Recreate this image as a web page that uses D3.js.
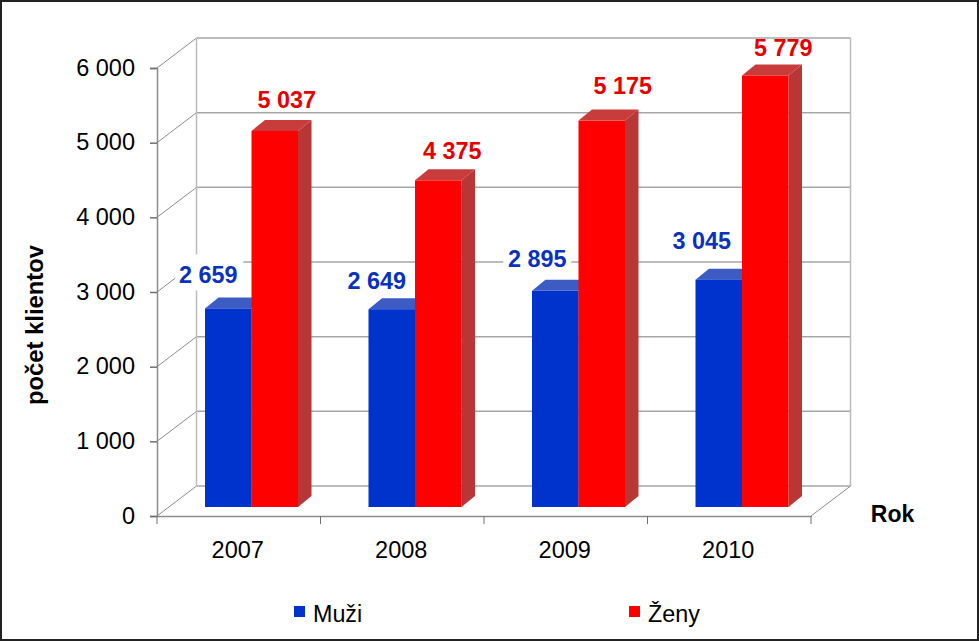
<!DOCTYPE html>
<html>
<head>
<meta charset="utf-8">
<script src="https://cdn.jsdelivr.net/npm/d3@7/dist/d3.min.js"></script>
<style>
html,body{margin:0;padding:0;background:#fff}
svg{display:block;font-family:"Liberation Sans",Arial,sans-serif}
</style>
</head>
<body>
<svg id="c" width="979" height="641"></svg>
<script>
const years = ["2007","2008","2009","2010"];
const muzi = [2659,2649,2895,3045];
const zeny = [5037,4375,5175,5779];
const yTicks = [0,1000,2000,3000,4000,5000,6000];
const seriesNames = ["Muži","Ženy"];
const yTitle = "počet klientov";
const xTitle = "Rok";

// label nudges relative to bar tops (layout only)
const muziLabelNudge = [[-20,-34],[-15,-29],[-18,-32],[-17,-39]];
const zenyLabelNudge = [[12,-31],[14,-30],[21,-35],[18,-28]];
// white label plates only where a label sits over grid lines
const muziLabelPlate = [[-33,-20,68,36],null,[-34,-16,68,32],null];

const BLUE="#0033cc", BLUE_TOP="#3c5cc4", RED="#ff0000", RED_TOP="#c83c3c", RED_SIDE="#b83636";
const GRID="#a6a6a6", WALL="#bcbcbc", AXIS="#8c8c8c";

const fmt = d3.formatLocale({decimal:",",thousands:" ",grouping:[3],currency:["",""]}).format(",d");
const svg = d3.select("#c");
svg.append("rect").attr("x",1).attr("y",1).attr("width",977).attr("height",639)
  .attr("fill","#fff").attr("stroke","#222").attr("stroke-width",2);

const x0=157,x1=811,y0=516,yTop=68;
const wallDx=39.5, wallDy=-30;
const y=d3.scaleLinear().domain([0,6000]).range([y0,yTop]);
const x=d3.scaleBand().domain(years).range([x0,x1]);

// back wall and side wall
const wall=svg.append("g").attr("fill","none");
wall.selectAll("line.grid").data(yTicks).join("line").attr("class","grid")
  .attr("x1",x0+wallDx).attr("x2",x1+wallDx)
  .attr("y1",d=>y(d)+wallDy).attr("y2",d=>y(d)+wallDy)
  .attr("stroke",GRID).attr("stroke-width",1.5);
wall.selectAll("line.side").data(yTicks).join("line").attr("class","side")
  .attr("x1",x0).attr("x2",x0+wallDx)
  .attr("y1",d=>y(d)).attr("y2",d=>y(d)+wallDy)
  .attr("stroke",AXIS).attr("stroke-width",1);
[x0+wallDx,x1+wallDx].forEach(px=>{
  wall.append("line").attr("x1",px).attr("x2",px)
    .attr("y1",y(6000)+wallDy).attr("y2",y(0)+wallDy)
    .attr("stroke",WALL).attr("stroke-width",1.5);
});
wall.append("line").attr("x1",x1).attr("y1",y0).attr("x2",x1+wallDx).attr("y2",y0+wallDy)
  .attr("stroke",AXIS);

// axes
const yAxis=svg.append("g").attr("transform",`translate(${x0},0)`)
  .call(d3.axisLeft(y).tickValues(yTicks).tickFormat(fmt).tickSize(7).tickPadding(15));
yAxis.selectAll("path").attr("stroke",AXIS).attr("stroke-width",1.5);
yAxis.selectAll("line").attr("stroke","#707070").attr("stroke-width",1.5);
yAxis.selectAll("text").attr("font-size",23.5).attr("fill","#000")
  .attr("font-family","Liberation Sans").attr("dy","0.3em");

const xAxis=svg.append("g").attr("transform",`translate(0,${y0})`)
  .call(d3.axisBottom(x).tickFormat(d=>d).tickSize(0).tickPadding(25));
xAxis.selectAll("path").attr("stroke",AXIS).attr("stroke-width",1.5);
xAxis.selectAll("text").attr("font-size",23.5).attr("fill","#000").attr("font-family","Liberation Sans")
  .attr("dx",-1);
const edges=[x0].concat(years.map(d=>x(d)+x.bandwidth()));
svg.selectAll("line.xt").data(edges).join("line").attr("class","xt")
  .attr("x1",d=>d).attr("x2",d=>d).attr("y1",y0).attr("y2",y0+8)
  .attr("stroke","#707070").attr("stroke-width",1);

// bars
const baseShift=-9, barLeft=48, barW=46.5, depthX=13.5, depthY=-11;
const h=v=>y0-y(v);
function barPos(i,s){return x(years[i])+barLeft+s*barW;}
function topY(v){return y0+baseShift-h(v);}
const pts=a=>a.map(p=>p.join(",")).join(" ");
const bars=svg.append("g");
function drawBar(vals,s,front,topC,sideC){
  const g=bars.selectAll(null).data(vals).join("g");
  g.append("polygon").attr("fill",sideC).attr("points",(v,i)=>{
    const l=barPos(i,s)+barW,t=topY(v),b=y0+baseShift;
    return pts([[l,t],[l+depthX,t+depthY],[l+depthX,b+depthY],[l,b]]);
  });
  g.append("polygon").attr("fill",topC).attr("points",(v,i)=>{
    const l=barPos(i,s),t=topY(v);
    return pts([[l,t],[l+depthX,t+depthY],[l+barW+depthX,t+depthY],[l+barW,t]]);
  });
  g.append("rect").attr("fill",front)
    .attr("x",(v,i)=>barPos(i,s)).attr("y",v=>topY(v))
    .attr("width",barW).attr("height",v=>h(v));
}
drawBar(muzi,0,BLUE,BLUE_TOP,BLUE_TOP);
drawBar(zeny,1,RED,RED_TOP,RED_SIDE);

// data labels
function labels(vals,s,nudge,color,plates){
  const g=svg.selectAll(null).data(vals).join("g")
    .attr("transform",(v,i)=>`translate(${barPos(i,s)+barW/2+nudge[i][0]},${topY(v)+nudge[i][1]})`);
  if(plates) g.filter((v,i)=>plates[i]).append("rect")
    .each(function(v){const p=plates[vals.indexOf(v)];
      d3.select(this).attr("x",p[0]).attr("y",p[1]).attr("width",p[2]).attr("height",p[3]);})
    .attr("fill","#fff");
  g.append("text").attr("text-anchor","middle").attr("dy","0.36em")
    .attr("font-size",23.4).attr("font-weight","bold").attr("fill",color).text(d=>fmt(d));
}
labels(muzi,0,muziLabelNudge,"#0a32c0",muziLabelPlate);
labels(zeny,1,zenyLabelNudge,"#e60000");

// titles
svg.append("text").attr("transform","translate(43,325) rotate(-90)")
  .attr("text-anchor","middle").attr("font-size",23.8).attr("font-weight","bold").text(yTitle);
svg.append("text").attr("x",892.5).attr("y",522).attr("text-anchor","middle")
  .attr("font-size",23).attr("font-weight","bold").text(xTitle);

// legend
const legendX=[294,629], legendColors=[BLUE,RED];
const lg=svg.selectAll(null).data(seriesNames).join("g")
  .attr("transform",(d,i)=>`translate(${legendX[i]},606)`);
lg.append("rect").attr("width",11).attr("height",11).attr("fill",(d,i)=>legendColors[i]);
lg.append("text").attr("x",19).attr("y",16).attr("font-size",23.3).text(d=>d);
</script>
</body>
</html>
